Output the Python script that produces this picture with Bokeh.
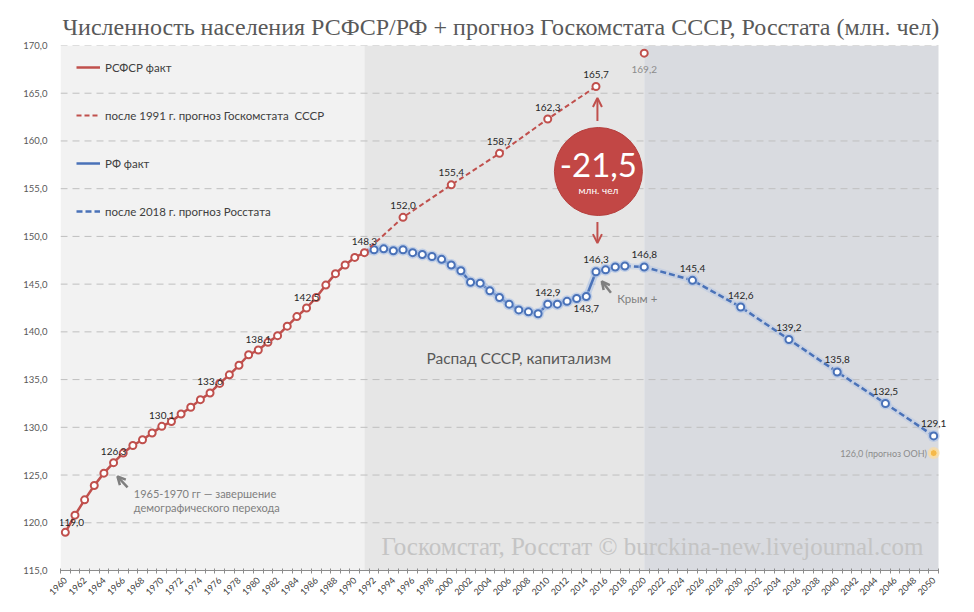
import math
from bokeh.plotting import figure
from bokeh.models import (Range1d, FixedTicker, Legend, LegendItem, Arrow, OpenHead,
                          LabelSet, ColumnDataSource)
from bokeh.core.properties import value
from bokeh.embed import file_html
from bokeh.resources import INLINE

TITLE = "Численность населения РСФСР/РФ + прогноз Госкомстата СССР, Росстата (млн. чел)"

# RSFSR actual population (mln), 1960-1991
rsfsr_years = list(range(1960, 1992))
rsfsr_values = [119.0, 120.8, 122.4, 123.9, 125.2, 126.3, 127.3, 128.1, 128.7, 129.4,
                130.1, 130.6, 131.4, 132.1, 132.9, 133.6, 134.6, 135.5, 136.5, 137.6,
                138.1, 138.9, 139.6, 140.6, 141.6, 142.5, 143.6, 144.9, 146.1, 147.0,
                147.8, 148.3]
rsfsr_label_years = [1960, 1965, 1970, 1975, 1980, 1985, 1991]

# USSR Goskomstat forecast after 1991
ussr_years = [1991, 1995, 2000, 2005, 2010, 2015]
ussr_values = [148.3, 152.0, 155.4, 158.7, 162.3, 165.7]
ussr_extra_years = [2020]
ussr_extra_values = [169.2]

# RF actual population, 1991-2018
rf_years = list(range(1991, 2019))
rf_values = [148.3, 148.6, 148.7, 148.5, 148.6, 148.3, 148.1, 147.9, 147.6, 147.0,
             146.4, 145.2, 145.1, 144.3, 143.6, 142.9, 142.3, 142.1, 141.9, 142.9,
             142.9, 143.2, 143.5, 143.7, 146.3, 146.5, 146.8, 146.9]
rf_label_above = [2010, 2015]
rf_label_below = [2014]

# Rosstat forecast after 2018
rosstat_years = [2018, 2020, 2025, 2030, 2035, 2040, 2045, 2050]
rosstat_values = [146.9, 146.8, 145.4, 142.6, 139.2, 135.8, 132.5, 129.1]

# UN forecast marker
un_years = [2050]
un_values = [127.3]
UN_TEXT = "126,0 (прогноз ООН)"

# axis ticks
y_ticks = [115, 120, 125, 130, 135, 140, 145, 150, 155, 160, 165, 170]
x_tick_years = list(range(1960, 2051, 2))

# category span and background periods
X_START, X_END = 1959.5, 2050.5
period_edges = [X_START, 1991, 2020, X_END]
period_colors = ["#f2f2f2", "#e6e6e6", "#d9dbe0"]

RED = "#c0504d"
BLUE = "#4a72b8"
BLUE_GLOW = "#a8c0e6"
FONT = "Lato"
SERIF = "Liberation Serif"


def fmt(v):
    return f"{v:.1f}".replace(".", ",")


# frame: 878 px for the 91 categories, plus 12 px of room on the right for labels
PX_PER_YEAR = 878 / (X_END - X_START)
EXTRA_PX = 12
p = figure(width=966, height=604, output_backend="svg", toolbar_location=None,
           x_range=Range1d(X_START, X_END + EXTRA_PX / PX_PER_YEAR), y_range=Range1d(115, 170),
           min_border_left=60, min_border_right=28 - EXTRA_PX, min_border_top=45,
           min_border_bottom=34)
p.outline_line_color = None
p.background_fill_color = "white"
p.border_fill_color = "white"

p.title.text = TITLE
p.title.align = "left"
p.title.offset = 2
p.title.text_font = SERIF
p.title.text_font_size = "24px"
p.title.text_font_style = "normal"
p.title.text_color = "#595959"
p.title.vertical_align = "middle"

# backgrounds
p.quad(left=period_edges[:-1], right=period_edges[1:], bottom=115, top=170,
       fill_color=period_colors, line_color=None, level="image")

# horizontal grid lines limited to the category span
p.segment(x0=X_START, x1=X_END, y0=y_ticks, y1=y_ticks, line_color="#bfbfbf",
          line_dash="7 5", line_width=1)

# axes
p.yaxis.ticker = FixedTicker(ticks=y_ticks)
p.yaxis.major_label_overrides = {t: fmt(t) for t in y_ticks}
p.yaxis.axis_line_color = None
p.yaxis.major_tick_line_color = None
p.yaxis.minor_tick_line_color = None
p.yaxis.major_label_text_font = FONT
p.yaxis.major_label_text_font_size = "9.5px"
p.yaxis.major_label_text_color = "#595959"
p.yaxis.major_label_standoff = 7

p.xaxis.ticker = FixedTicker(ticks=x_tick_years,
                             minor_ticks=[y + 0.5 for y in range(1959, 2051)])
p.xaxis.bounds = (X_START, X_END)
p.xaxis.major_label_overrides = {t: str(t) for t in x_tick_years}
p.xaxis.major_label_orientation = math.pi / 4
p.xaxis.axis_line_color = "#8c8c8c"
p.xaxis.major_tick_line_color = None
p.xaxis.minor_tick_line_color = "#8c8c8c"
p.xaxis.minor_tick_in = 2
p.xaxis.minor_tick_out = 3
p.xaxis.major_label_text_font = FONT
p.xaxis.major_label_text_font_size = "9px"
p.xaxis.major_label_text_color = "#404040"
p.xaxis.major_label_standoff = 2

p.xgrid.visible = False
p.ygrid.visible = False

# RF actual (glow + line)
p.line(rf_years, rf_values, line_color=BLUE_GLOW, line_width=7, line_alpha=0.55)
rf_line = p.line(rf_years, rf_values, line_color=BLUE, line_width=2.5)
# Rosstat forecast
p.line(rosstat_years, rosstat_values, line_color=BLUE_GLOW, line_width=6, line_alpha=0.35)
ros_line = p.line(rosstat_years, rosstat_values, line_color=BLUE, line_width=2.5, line_dash="6 3")
p.scatter(rf_years[1:] + rosstat_years[1:], rf_values[1:] + rosstat_values[1:],
          size=12, fill_color=BLUE_GLOW, fill_alpha=0.6, line_color=None)
p.scatter(rf_years[1:] + rosstat_years[1:], rf_values[1:] + rosstat_values[1:],
          size=7, fill_color="white", line_color=BLUE, line_width=2)

# USSR forecast
ussr_line = p.line(ussr_years, ussr_values, line_color=RED, line_width=2, line_dash="5 3")
p.scatter(ussr_years[1:] + ussr_extra_years, ussr_values[1:] + ussr_extra_values,
          size=7, fill_color="white", line_color=RED, line_width=2)

# RSFSR actual
rsfsr_line = p.line(rsfsr_years, rsfsr_values, line_color=RED, line_width=2.5)
p.scatter(rsfsr_years, rsfsr_values, size=7, fill_color="white", line_color=RED, line_width=2)

# UN forecast
p.scatter(un_years, un_values, size=12, fill_color="#fbdc9e", fill_alpha=0.7, line_color=None)
p.scatter(un_years, un_values, size=7, fill_color="#f5b94a", line_color="#fbe1a8", line_width=1)


def add_labels(xs, ys, yoff, color="#262626", xoff=0, size="10px"):
    src = ColumnDataSource(dict(x=xs, y=ys, t=[fmt(v) for v in ys]))
    p.add_layout(LabelSet(x="x", y="y", text="t", source=src, x_offset=xoff, y_offset=yoff,
                          text_align="center", text_baseline="middle", text_font=value(FONT),
                          text_font_size=size, text_color=color))


rs_map = dict(zip(rsfsr_years, rsfsr_values))
add_labels(rsfsr_label_years[:1], [rs_map[y] for y in rsfsr_label_years[:1]], 10, xoff=6)
add_labels(rsfsr_label_years[1:], [rs_map[y] for y in rsfsr_label_years[1:]], 11)
add_labels(ussr_years[1:], ussr_values[1:], 12)
add_labels(ussr_extra_years, ussr_extra_values, -16, color="#8c8c8c")
rf_map = dict(zip(rf_years, rf_values))
add_labels(rf_label_above, [rf_map[y] for y in rf_label_above], 12)
add_labels(rf_label_below, [rf_map[y] for y in rf_label_below], -12)
add_labels(rosstat_years[1:], rosstat_values[1:], 12)

p.text(x=[2049.3], y=un_values, text=[UN_TEXT], text_align="right", text_baseline="middle",
       text_font=value(FONT), text_font_size="9px", text_color="#8c8c8c")

# legend
legend = Legend(items=[
    LegendItem(label="РСФСР факт", renderers=[rsfsr_line]),
    LegendItem(label="после 1991 г. прогноз Госкомстата  СССР", renderers=[ussr_line]),
    LegendItem(label="РФ факт", renderers=[rf_line]),
    LegendItem(label="после 2018 г. прогноз Росстата", renderers=[ros_line]),
], location=(16, 349), padding=0, margin=0, spacing=28, glyph_width=24, glyph_height=20,
    label_height=20, label_standoff=5, border_line_color=None, background_fill_alpha=0,
    label_text_font=FONT, label_text_font_size="11.5px", label_text_color="#404040")
p.add_layout(legend, "center")

# annotations
p.scatter([2015.25], [156.8], size=88, fill_color="#c24745", line_color="#b5403e", line_width=1)
p.text([2015.25], [157.5], text=["-21,5"], text_align="center", text_baseline="middle",
       text_font=value(FONT), text_font_size="33px", text_color="white")
p.text([2015.25], [154.9], text=["млн. чел"], text_align="center", text_baseline="middle",
       text_font=value(FONT), text_font_size="10px", text_color="white")
p.add_layout(Arrow(end=OpenHead(size=9, line_color=RED, line_width=2),
                   x_start=2015.15, y_start=162.1, x_end=2015.15, y_end=164.5,
                   line_color=RED, line_width=2))
p.add_layout(Arrow(end=OpenHead(size=9, line_color=RED, line_width=2),
                   x_start=2015.15, y_start=151.5, x_end=2015.15, y_end=149.3,
                   line_color=RED, line_width=2))

GRAY = "#7f7f7f"
p.text([2007.0], [137.3], text=["Распад СССР, капитализм"], text_align="center",
       text_baseline="middle", text_font=value(FONT), text_font_size="15.5px", text_color="#595959")
p.text([2017.2], [143.5], text=["Крым +"], text_align="left", text_baseline="middle",
       text_font=value(FONT), text_font_size="11.5px", text_color=GRAY)
p.add_layout(Arrow(end=OpenHead(size=8, line_color=GRAY, line_width=2.5),
                   x_start=2016.55, y_start=144.1, x_end=2015.6, y_end=145.3,
                   line_color=GRAY, line_width=2.5))
p.text([1967.1, 1967.1], [123.06, 121.6],
       text=["1965-1970 гг — завершение", "демографического перехода"],
       text_align="left", text_baseline="middle", text_font=value(FONT),
       text_font_size="11px", text_color=GRAY)
p.add_layout(Arrow(end=OpenHead(size=8, line_color=GRAY, line_width=2.5),
                   x_start=1966.45, y_start=123.7, x_end=1965.4, y_end=124.85,
                   line_color=GRAY, line_width=2.5))

p.text([2020.85], [117.5], text=["Госкомстат, Росстат © burckina-new.livejournal.com"],
       text_align="center", text_baseline="middle", text_font=value(SERIF),
       text_font_size="25px", text_color="#c4c4c4")

open("out.html", "w").write(file_html(p, INLINE))
